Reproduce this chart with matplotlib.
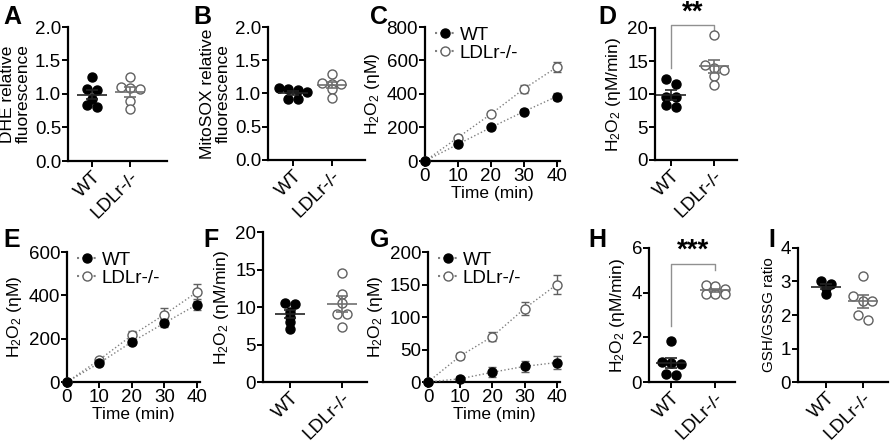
import matplotlib.pyplot as plt
import numpy as np
from matplotlib.lines import Line2D

plt.rcParams['font.family'] = ['Liberation Sans', 'DejaVu Sans']
plt.rcParams['mathtext.fontset'] = 'custom'
plt.rcParams['mathtext.rm'] = 'Liberation Sans'
plt.rcParams['mathtext.it'] = 'Liberation Sans:italic'

groups = ['WT', 'LDLr-/-']

# A: DHE relative fluorescence
dhe_wt = [1.25, 1.07, 1.06, 0.93, 0.84, 0.80]
dhe_ko = [1.25, 1.09, 1.10, 1.08, 0.90, 0.77]
# B: MitoSOX relative fluorescence
mitosox_wt = [1.08, 1.05, 1.02, 1.07, 0.92, 0.92]
mitosox_ko = [1.30, 1.15, 1.14, 1.16, 1.07, 0.93]
# C: H2O2 over time
time_min = [0, 10, 20, 30, 40]
c_wt = [0, 100, 200, 295, 385]
c_wt_err = [0, 8, 8, 15, 20]
c_ko = [0, 140, 280, 430, 560]
c_ko_err = [0, 10, 12, 22, 30]
# D: H2O2 rate
d_wt = [12.2, 11.5, 9.6, 9.5, 8.3, 8.0]
d_ko = [18.9, 13.9, 14.4, 13.7, 12.8, 11.3]
# E: H2O2 over time
e_wt = [0, 88, 185, 272, 357]
e_wt_err = [0, 8, 10, 18, 25]
e_ko = [0, 103, 215, 311, 414]
e_ko_err = [0, 10, 20, 30, 40]
# F: H2O2 rate
f_wt = [10.4, 10.6, 9.4, 8.7, 8.0, 7.1]
f_ko = [14.6, 11.8, 10.6, 9.1, 9.1, 7.3]
# G: H2O2 over time
g_wt = [0, 5, 15, 24, 30]
g_wt_err = [0, 5, 8, 8, 10]
g_ko = [0, 40, 70, 113, 150]
g_ko_err = [0, 5, 7, 10, 14]
# H: H2O2 rate
h_wt = [1.85, 0.9, 0.8, 0.85, 0.3, 0.35]
h_ko = [4.35, 4.3, 4.15, 3.95, 3.95, 3.95]
# I: GSH/GSSG ratio
i_wt = [2.93, 3.0, 2.82, 2.63]
i_ko = [3.17, 2.57, 2.42, 2.42, 2.0, 1.85]

W, H = 892, 444
fig = plt.figure(figsize=(W / 100, H / 100), dpi=100)

OPEN_EDGE = '#606060'
LINE_GREY = '#808080'
TICK_FS = 13.5
LAB_FS = 12.5


def add_ax(l, r, t, b):
    ax = fig.add_axes([l / W, 1 - b / H, (r - l) / W, (b - t) / H])
    for s in ['top', 'right']:
        ax.spines[s].set_visible(False)
    for s in ['left', 'bottom']:
        ax.spines[s].set_linewidth(1.6)
    ax.tick_params(width=1.4, length=4, direction='out', labelsize=TICK_FS, pad=1)
    return ax


def swarm(ax, vals, center, d_px=9.5):
    # arrange close values side by side like a scatter dot plot
    vals = np.asarray(vals, float)
    ypx = ax.transData.transform(np.c_[np.zeros(len(vals)), vals])[:, 1]
    ppu = ax.transData.transform((1, 0))[0] - ax.transData.transform((0, 0))[0]
    order = np.argsort(-ypx)
    xs = np.zeros(len(vals))
    rows = []
    for i in order:
        if rows and abs(ypx[rows[-1][0]] - ypx[i]) < d_px * 0.55:
            rows[-1].append(i)
        else:
            rows.append([i])
    for row in rows:
        n = len(row)
        for k, i in enumerate(row):
            xs[i] = center + (k - (n - 1) / 2) * d_px / ppu
    return xs, ppu


def dot_panel(ax, wt, ko, ylim, yticks, ylabel, xlim, fmt='%g', lab_fs=LAB_FS):
    ax.set_xlim(*xlim)
    ax.set_ylim(*ylim)
    ax.set_yticks(yticks)
    ax.set_yticklabels([fmt % v for v in yticks])
    ax.set_xticks([0, 1])
    ax.set_xticklabels(groups, rotation=45, ha='right', rotation_mode='anchor')
    for pos, vals, filled in [(0, wt, True), (1, ko, False)]:
        xs, ppu = swarm(ax, vals, pos)
        m = np.mean(vals)
        sem = np.std(vals, ddof=1) / np.sqrt(len(vals))
        col = '#222222' if filled else '#707070'
        ax.hlines(m, pos - 15 / ppu, pos + 15 / ppu, color=col, lw=1.2, zorder=4)
        ax.errorbar(pos, m, yerr=sem, color=col, capsize=4, lw=1.2, capthick=1.2, zorder=4)
        if filled:
            ax.plot(xs, vals, 'o', ms=6.5, mfc='black', mec='black', ls='none', zorder=3)
        else:
            ax.plot(xs, vals, 'o', ms=6.5, mfc='white', mec=OPEN_EDGE, mew=1, ls='none', zorder=3)
    ax.set_ylabel(ylabel, fontsize=lab_fs, labelpad=3, linespacing=1.05)


def time_panel(ax, wt, wt_err, ko, ko_err, ylim, yticks):
    ax.set_xlim(0, 41)
    ax.set_ylim(*ylim)
    ax.set_yticks(yticks)
    ax.set_xticks([0, 10, 20, 30, 40])
    ax.errorbar(time_min, ko, yerr=ko_err, color=LINE_GREY, ls=':', lw=1, capsize=3,
                marker='o', ms=6.5, mfc='white', mec=OPEN_EDGE, ecolor=OPEN_EDGE, zorder=3, clip_on=False)
    ax.errorbar(time_min, wt, yerr=wt_err, color=LINE_GREY, ls=':', lw=1, capsize=3,
                marker='o', ms=6.5, mfc='black', mec='black', ecolor=OPEN_EDGE, zorder=3, clip_on=False)
    ax.set_xlabel('Time (min)', fontsize=LAB_FS, labelpad=1)
    ax.set_ylabel('H$_2$O$_2$ (ηM)', fontsize=LAB_FS, labelpad=3)
    handles = [Line2D([], [], color=LINE_GREY, ls=':', marker='o', ms=6.5, mfc='black', mec='black'),
               Line2D([], [], color=LINE_GREY, ls=':', marker='o', ms=6.5, mfc='white', mec=OPEN_EDGE)]
    ax.legend(handles, groups, loc='upper left', frameon=False, fontsize=TICK_FS, handlelength=1.0,
              handletextpad=0.3, borderaxespad=0.0, labelspacing=0.05, bbox_to_anchor=(0.02, 1.06))


def bracket(ax, y_left, y_top, y_right, stars):
    ax.plot([0, 0, 1, 1], [y_left, y_top, y_top, y_right], color='#909090', lw=1, clip_on=False)
    ax.text(0.5, y_top, stars, ha='center', va='bottom', fontsize=20, fontweight='bold', clip_on=False)


rate_label = 'H$_2$O$_2$ (ηM/min)'

axA = add_ax(68, 167, 27, 161)
dot_panel(axA, dhe_wt, dhe_ko, (0, 2), [0, 0.5, 1.0, 1.5, 2.0], 'DHE relative\nfluorescence', (-0.63, 1.97), '%.1f')

axB = add_ax(268, 365, 27, 160)
dot_panel(axB, mitosox_wt, mitosox_ko, (0, 2), [0, 0.5, 1.0, 1.5, 2.0], 'MitoSOX relative\nfluorescence', (-0.64, 1.85), '%.1f')

axC = add_ax(425, 560, 27, 161)
time_panel(axC, c_wt, c_wt_err, c_ko, c_ko_err, (0, 800), [0, 200, 400, 600, 800])

axD = add_ax(655, 737, 28, 160)
dot_panel(axD, d_wt, d_ko, (0, 20), [0, 5, 10, 15, 20], rate_label, (-0.37, 1.53))
bracket(axD, 13.9, 20.4, 19.7, '**')

axE = add_ax(67, 200, 252, 382)
time_panel(axE, e_wt, e_wt_err, e_ko, e_ko_err, (0, 600), [0, 200, 400, 600])

axF = add_ax(263, 367, 232, 382)
dot_panel(axF, f_wt, f_ko, (0, 20), [0, 5, 10, 15, 20], rate_label, (-0.52, 1.48))

axG = add_ax(428, 560, 252, 382)
time_panel(axG, g_wt, g_wt_err, g_ko, g_ko_err, (0, 200), [0, 50, 100, 150, 200])

axH = add_ax(649, 735, 248, 382)
dot_panel(axH, h_wt, h_ko, (0, 6), [0, 2, 4, 6], rate_label, (-0.5, 1.45))
bracket(axH, 2.5, 5.3, 5.0, '***')

axI = add_ax(798, 888, 248, 382)
dot_panel(axI, i_wt, i_ko, (0, 4), [0, 1, 2, 3, 4], 'GSH/GSSG ratio', (-0.76, 1.68), lab_fs=11)

for lab, x, y in [('A', 3, 5), ('B', 193, 5), ('C', 370, 5), ('D', 598, 5),
                  ('E', 3, 228), ('F', 203, 228), ('G', 370, 228), ('H', 588, 228), ('I', 768, 228)]:
    fig.text(x / W, 1 - y / H, lab, fontsize=18, fontweight='bold', va='top', ha='left')

fig.savefig('out.png', dpi=100)
